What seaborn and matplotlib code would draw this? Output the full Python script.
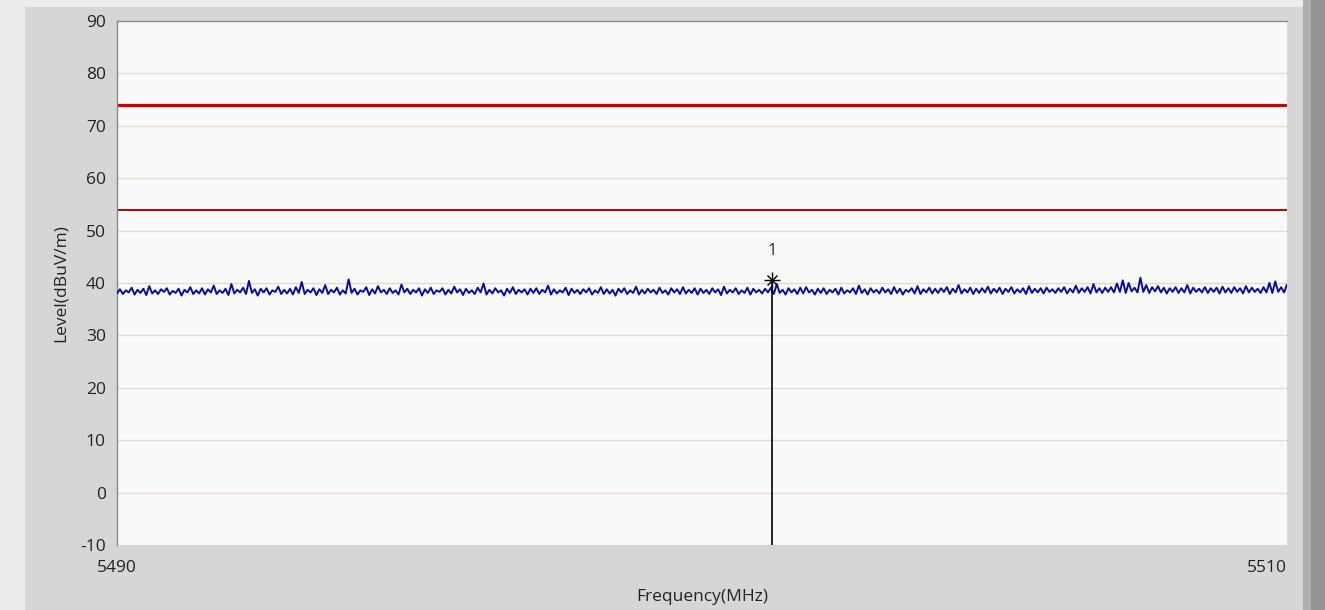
import numpy as np
import pandas as pd
import matplotlib
matplotlib.use("Agg")
import matplotlib.pyplot as plt
import seaborn as sns
from matplotlib.patches import Rectangle

# ---------------------------------
# Data
# ---------------------------------
freq_start = 5490
freq_stop = 5510

level = [
    38.0, 38.8, 37.9, 38.6, 38.2, 39.1, 37.8, 38.7, 38.1, 38.9, 37.7, 39.4, 38.0, 38.6, 37.9, 38.8, 38.3, 39.0, 37.8, 38.5,
    38.1, 38.9, 37.6, 38.7, 38.2, 39.2, 37.9, 38.6, 38.0, 39.0, 37.8, 38.8, 38.2, 39.5, 37.9, 38.6, 38.1, 38.9, 37.7, 39.8,
    38.0, 38.7, 38.2, 39.1, 37.9, 40.4, 38.1, 38.8, 37.6, 38.9, 38.2, 39.0, 37.8, 38.6, 38.3, 39.3, 37.9, 38.7, 38.0, 38.9,
    37.8, 39.2, 38.1, 40.2, 37.9, 38.7, 38.2, 39.0, 37.7, 38.8, 38.1, 39.6, 37.9, 38.7, 38.2, 39.1, 37.8, 38.6, 38.0, 40.7,
    38.1, 38.9, 37.8, 38.6, 38.3, 39.2, 37.7, 38.8, 38.0, 39.4, 38.2, 38.7, 37.9, 39.0, 38.1, 38.6, 37.8, 39.7, 38.2, 38.9,
    37.9, 38.7, 38.2, 39.0, 37.6, 38.8, 38.1, 39.1, 37.9, 38.6, 38.3, 39.0, 37.8, 38.7, 38.0, 39.3, 38.2, 38.8, 37.7, 38.9,
    38.1, 38.6, 37.9, 39.1, 38.2, 39.9, 37.8, 38.7, 38.0, 39.0, 38.2, 38.6, 37.6, 38.9, 38.1, 39.2, 37.9, 38.7, 38.2, 38.8,
    37.8, 38.9, 38.1, 39.0, 37.9, 38.7, 38.2, 39.5, 37.8, 38.8, 38.0, 38.6, 38.2, 39.1, 37.7, 38.9, 38.1, 38.7, 37.9, 38.8,
    38.2, 39.0, 37.8, 38.6, 38.1, 39.2, 37.9, 38.8, 38.0, 38.7, 37.6, 38.9, 38.2, 39.0, 37.9, 38.6, 38.1, 39.3, 37.8, 38.7,
    38.0, 38.9, 38.2, 38.7, 37.9, 39.1, 38.1, 38.6, 37.8, 39.0, 38.2, 38.8, 37.9, 39.2, 38.0, 38.7, 38.1, 39.0, 37.8, 38.9,
    38.1, 38.7, 37.9, 39.0, 38.2, 38.8, 37.7, 39.3, 38.0, 38.7, 38.2, 39.0, 37.9, 38.6, 38.1, 39.1, 37.8, 38.9, 38.2, 38.7,
    38.0, 38.9, 38.2, 39.1, 37.9, 39.8, 38.1, 38.7, 37.8, 39.0, 38.2, 38.8, 37.9, 39.1, 38.0, 39.2, 38.2, 38.7, 37.8, 38.9,
    38.1, 39.0, 37.9, 38.7, 38.2, 38.9, 37.8, 39.1, 38.0, 38.6, 38.2, 39.0, 37.9, 39.5, 38.1, 38.8, 37.8, 39.0, 38.2, 38.7,
    38.0, 39.1, 38.2, 38.8, 37.9, 39.2, 38.1, 38.9, 37.8, 38.7, 38.3, 39.0, 38.0, 39.4, 37.9, 38.8, 38.2, 39.1, 38.0, 38.9,
    38.1, 39.0, 38.3, 39.2, 37.9, 38.9, 38.2, 39.6, 38.0, 38.8, 38.2, 39.1, 37.9, 38.9, 38.1, 39.0, 38.2, 39.3, 38.0, 38.9,
    38.2, 39.1, 37.9, 38.9, 38.3, 39.2, 38.0, 38.8, 38.2, 39.0, 37.9, 39.4, 38.1, 38.9, 38.2, 39.0, 38.0, 39.1, 38.3, 38.8,
    38.1, 39.0, 38.3, 39.2, 38.0, 38.9, 38.2, 39.5, 38.1, 39.0, 38.3, 39.2, 38.0, 39.8, 38.2, 39.0, 38.1, 39.1, 38.3, 39.2,
    38.2, 39.9, 38.3, 40.5, 38.1, 40.0, 38.4, 39.1, 38.2, 41.0, 38.3, 39.6, 38.1, 39.2, 38.4, 39.4, 38.2, 39.1, 38.0, 39.0,
    38.3, 39.2, 38.1, 39.0, 38.2, 39.6, 38.0, 39.1, 38.3, 38.9, 38.2, 39.2, 38.1, 39.0, 38.3, 39.1, 38.0, 39.3, 38.2, 39.0,
    38.1, 39.2, 38.3, 39.0, 38.0, 39.4, 38.2, 39.1, 38.3, 38.9, 38.1, 39.2, 38.2, 40.0, 38.1, 40.3, 38.3, 39.2, 38.2, 39.7,
]

# limit lines (peak / average)
limit_peak = 74
limit_avg = 54

# marker 1
marker_freq = 5501.2
marker_level = 40.6
marker_label = "1"

y_ticks = [-10, 0, 10, 20, 30, 40, 50, 60, 70, 80, 90]
x_ticks = [5490, 5510]

df = pd.DataFrame({
    "Frequency": np.linspace(freq_start, freq_stop, len(level)),
    "Level": level,
})

# ---------------------------------
# Figure
# ---------------------------------
sns.set_style("white")
plt.rcParams["font.family"] = ["Open Sans", "DejaVu Sans"]
plt.rcParams["axes.unicode_minus"] = False

fig = plt.figure(figsize=(13.25, 6.1), dpi=100)
fig.patch.set_facecolor("#d6d6d6")

# window frame strips
fig.patches.append(Rectangle((0, 0), 25 / 1325, 1, transform=fig.transFigure,
                             facecolor="#ededed", edgecolor="none", zorder=0))
fig.patches.append(Rectangle((0, 1 - 7 / 610), 1, 7 / 610, transform=fig.transFigure,
                             facecolor="#ededed", edgecolor="none", zorder=0))
fig.patches.append(Rectangle((1303 / 1325, 0), 22 / 1325, 1, transform=fig.transFigure,
                             facecolor="#b0b0b0", edgecolor="none", zorder=0))
fig.patches.append(Rectangle((1311 / 1325, 0), 14 / 1325, 1, transform=fig.transFigure,
                             facecolor="#939393", edgecolor="none", zorder=0))

ax = fig.add_axes([117 / 1325, 65 / 610, 1170 / 1325, 524 / 610])
ax.set_facecolor("#f9f9f9")

# grid lines
for yv in y_ticks[1:-1]:
    ax.axhline(yv, color="#e3dcc3", lw=1.0, zorder=1)

# limit lines
ax.axhline(limit_peak, color="#d40000", lw=2.3, zorder=2)
ax.axhline(limit_avg, color="#b80000", lw=1.4, zorder=2)

# trace
sns.lineplot(data=df, x="Frequency", y="Level", ax=ax, color="#0c0c9c",
             lw=1.4, zorder=3)

# marker
ax.plot([marker_freq, marker_freq], [-10, marker_level], color="black", lw=1.2, zorder=4)
ax.plot(marker_freq, marker_level, marker="+", ms=11, mew=1.0, color="black", zorder=5)
ax.plot(marker_freq, marker_level, marker="x", ms=7, mew=1.0, color="black", zorder=5)
ax.text(marker_freq, marker_level + 5.5, marker_label, ha="center", va="center",
        fontsize=12, color="#222222")

ax.set_xlim(freq_start, freq_stop)
ax.set_ylim(-10, 90)
ax.set_yticks(y_ticks)
ax.set_xticks(x_ticks)
ax.tick_params(axis="both", length=0, labelsize=12.5, colors="#222222")
ax.tick_params(axis="y", pad=8)
ax.tick_params(axis="x", pad=11)
xl = ax.get_xticklabels()
xl[-1].set_ha("right")

for side in ["right", "bottom"]:
    ax.spines[side].set_visible(False)
for side in ["left", "top"]:
    ax.spines[side].set_color("#8a8a8a")
    ax.spines[side].set_linewidth(1.0)

ax.set_xlabel("Frequency(MHz)", fontsize=12.5, color="#222222", labelpad=9)
ax.set_ylabel("Level(dBuV/m)", fontsize=12.5, color="#222222", labelpad=8)

fig.savefig("out.png", dpi=100, facecolor=fig.get_facecolor())
